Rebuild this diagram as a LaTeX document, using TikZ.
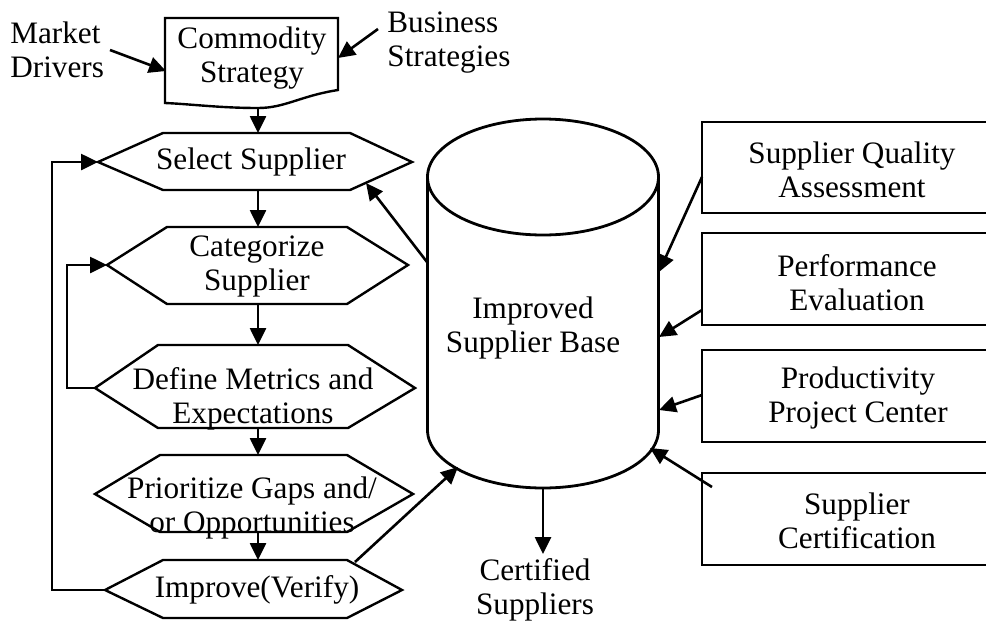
\documentclass[tikz,border=0pt]{standalone}
\usepackage{fontspec}
\setmainfont{Liberation Serif}
\usetikzlibrary{arrows.meta}
\begin{document}
\begin{tikzpicture}[x=0.5pt,y=-0.5pt,
  every node/.style={font=\fontsize{15.6}{17}\selectfont, inner sep=0pt, align=center},
  shp/.style={draw=black, line width=1.2pt, line join=miter},
  boxln/.style={draw=black, line width=1.4pt},
  arr/.style={draw=black, line width=1.3pt, -{Triangle[length=8.5pt,width=8pt]}}]
\useasboundingbox (0,0) rectangle (986,622);
\fill[white] (0,0) rectangle (986,622);

% Commodity strategy (document shape)
\draw[shp] (165,103) -- (165,18) -- (338,18) -- (338,90)
  .. controls (300,96) and (285,108) .. (258,108)
  .. controls (220,108) and (190,104) .. (165,103) -- cycle;
\node (com) at (252,58) {Commodity\\Strategy};
\coordinate (com-b) at (258,107);
\coordinate (com-w) at (166,71);
\coordinate (com-e) at (338,58);

\node[anchor=west, align=left] (md) at (10,50) {Market\\Drivers};
\coordinate (md-e) at (110,50);
\node[anchor=west, align=left] (bs) at (387,43) {Business\\Strategies};
\coordinate (bs-w) at (378,29);

% Hexagons
\draw[shp] (98,162) -- (163,133) -- (350,133) -- (412,162) -- (350,190) -- (163,190) -- cycle;
\node (sel) at (251,162) {Select Supplier};
\coordinate (sel-l) at (98,162);
\coordinate (sel-t) at (258,133);
\coordinate (sel-b) at (258,190);
\coordinate (sel-r) at (366,183);

\draw[shp] (107,265) -- (167,227) -- (347,227) -- (408,265) -- (347,304) -- (167,304) -- cycle;
\node (cat) at (257,266) {\fontsize{15.6}{17.5}\selectfont Categorize\\Supplier};
\coordinate (cat-l) at (107,265);
\coordinate (cat-t) at (258,227);
\coordinate (cat-b) at (258,304);

\draw[shp] (95,388) -- (158,345) -- (348,345) -- (415,388) -- (348,428) -- (158,428) -- cycle;
\node (def) at (253,399) {\fontsize{15.6}{16}\selectfont Define Metrics and\\Expectations};
\coordinate (def-l) at (95,388);
\coordinate (def-t) at (258,345);
\coordinate (def-b) at (258,428);

\draw[shp] (95,494) -- (160,455) -- (347,455) -- (413,494) -- (347,532) -- (160,532) -- cycle;
\node (pri) at (252,508) {\fontsize{15.6}{14}\selectfont Prioritize Gaps and/\\or Opportunities};
\coordinate (pri-t) at (258,455);
\coordinate (pri-b) at (258,532);

\draw[shp] (105,590) -- (163,560) -- (347,560) -- (402,590) -- (347,618) -- (163,618) -- cycle;
\node (imp) at (257,590) {Improve(Verify)};
\coordinate (imp-l) at (105,590);
\coordinate (imp-t) at (258,560);
\coordinate (imp-r) at (355,562);

% vertical flow
\draw[arr] (com-b) -- (sel-t);
\draw[arr] (sel-b) -- (cat-t);
\draw[arr] (cat-b) -- (def-t);
\draw[arr] (def-b) -- (pri-t);
\draw[arr] (pri-b) -- (imp-t);
\draw[arr] (md-e) -- (com-w);
\draw[arr] (bs-w) -- (com-e);

% feedback loops
\coordinate (loopo) at (52,590);
\coordinate (loopi) at (67,388);
\draw[arr] (imp-l) -- (loopo) |- (sel-l);
\draw[arr] (def-l) -- (loopi) |- (cat-l);

% Cylinder
\draw[boxln] (543,177) ellipse [x radius=57.75pt, y radius=29pt];
\draw[boxln] (427.5,177) -- (427.5,430) arc[start angle=180, end angle=360, x radius=57.75pt, y radius=29pt] -- (658.5,177);
\node (base) at (533,328) {Improved\\Supplier Base};
\coordinate (base-l) at (427,262);
\coordinate (base-bl) at (458,467);
\coordinate (base-b) at (543,488);
\coordinate (base-r1) at (659,272);
\coordinate (base-r2) at (659,337);
\coordinate (base-r3) at (659,410);
\coordinate (base-br) at (650,448);

\node (cert) at (535,590) {Certified\\Suppliers};
\coordinate (cert-t) at (543,554);

% Right boxes
\draw[boxln] (986,122) -- (702,122) -- (702,213) -- (986,213);
\node (sqa) at (852,170) {Supplier Quality\\Assessment};
\coordinate (sqa-l) at (702,177);
\draw[boxln] (986,233) -- (702,233) -- (702,325) -- (986,325);
\node (pe) at (857,283) {Performance\\Evaluation};
\coordinate (pe-l) at (702,310);
\draw[boxln] (986,350) -- (702,350) -- (702,442) -- (986,442);
\node (ppc) at (858,398) {Productivity\\Project Center};
\coordinate (ppc-l) at (702,395);
\draw[boxln] (986,473) -- (702,473) -- (702,565) -- (986,565);
\node (sc) at (857,521) {Supplier\\Certification};
\coordinate (sc-l) at (712,487);

% connectors to/from cylinder
\draw[arr] (base-l) -- (sel-r);
\draw[arr] (imp-r) -- (base-bl);
\draw[arr] (base-b) -- (cert-t);
\draw[arr] (sqa-l) -- (base-r1);
\draw[arr] (pe-l) -- (base-r2);
\draw[arr] (ppc-l) -- (base-r3);
\draw[arr] (sc-l) -- (base-br);
\end{tikzpicture}
\end{document}
